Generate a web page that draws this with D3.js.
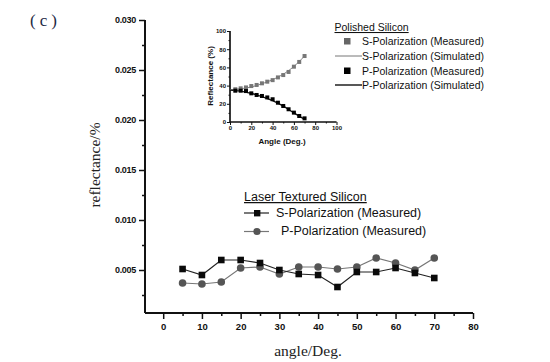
<!DOCTYPE html>
<html><head><meta charset="utf-8">
<script src="https://cdn.jsdelivr.net/npm/d3@7"></script>
<style>body{margin:0;background:#fff}svg{display:block}</style>
</head><body>
<svg id="c" width="550" height="362"></svg>
<script>
// Main chart data (Laser Textured Silicon)
const angles = [5,10,15,20,25,30,35,40,45,50,55,60,65,70];
const laserS = [0.0051,0.0045,0.0060,0.0060,0.0057,0.0050,0.0046,0.0045,0.0033,0.0048,0.0048,0.0052,0.0047,0.0042];
const laserP = [0.0037,0.0036,0.0038,0.0052,0.0053,0.0046,0.0053,0.0053,0.0051,0.0053,0.0062,0.0057,0.0050,0.0062];
const mainXTicks = [0,10,20,30,40,50,60,70,80];
const mainYTicks = [0.005,0.010,0.015,0.020,0.025,0.030];
// Inset data (Polished Silicon)
const insetAngles = [5,10,15,20,25,30,35,40,45,50,55,60,65,70];
const polS = [36,37,38,39.5,40.7,42.5,44.3,46,49,51.6,55,60.8,66,72.5];
const polP = [34.4,34.4,34,31.5,29.7,28.6,27,25,21.2,17.6,14,10.3,6.6,4];
const simAngles = [0,10,20,30,40,50,60,70];
const simS = [35.5,36.5,38.5,42,46.5,52.5,61,72.5];
const simP = [35,34,31.5,28,23.5,17.5,10,3];
const insetTicks = [0,20,40,60,80,100];

const svg = d3.select("#c");
const sans = "'Liberation Sans', Arial, sans-serif";
const serif = "'Liberation Serif', 'Times New Roman', serif";

// main scales
const x = d3.scaleLinear().domain([-4.7,80]).range([145,473]);
const y = d3.scaleLinear().domain([0.0007,0.030]).range([313,20]);

const gx = svg.append("g").attr("transform","translate(0,313)");
gx.call(d3.axisBottom(x).tickValues(d3.range(5,80,10)).tickSize(3).tickFormat(""));
gx.append("g").call(d3.axisBottom(x).tickValues(mainXTicks).tickSize(6).tickPadding(4).tickFormat(d3.format("d")));
gx.selectAll("path").attr("d","M145,0H473").attr("stroke","#111").attr("stroke-width",1.8);
gx.selectAll("line").attr("stroke","#111").attr("stroke-width",1.5);
gx.selectAll("text").attr("font-family",sans).attr("font-weight","bold").attr("font-size",9.5).attr("fill","#111");

const gy = svg.append("g").attr("transform","translate(145,0)");
gy.call(d3.axisLeft(y).tickValues(d3.range(0.0025,0.03,0.005)).tickSize(3).tickFormat(""));
gy.append("g").call(d3.axisLeft(y).tickValues(mainYTicks).tickSize(6).tickPadding(3).tickFormat(d3.format(".3f")));
gy.selectAll("path").attr("d","M0,20V313").attr("stroke","#111").attr("stroke-width",1.8);
gy.selectAll("line").attr("stroke","#111").attr("stroke-width",1.5);
gy.selectAll("text").attr("font-family",sans).attr("font-weight","bold").attr("font-size",9).attr("fill","#111").attr("letter-spacing","-0.3");

// axis titles
svg.append("text").attr("transform","translate(100,165) rotate(-90)").attr("text-anchor","middle")
  .attr("font-family",serif).attr("font-size",15.5).attr("fill","#222").text("reflectance/%");
svg.append("text").attr("x",308).attr("y",356).attr("text-anchor","middle")
  .attr("font-family",serif).attr("font-size",15.5).attr("fill","#222").text("angle/Deg.");
svg.append("text").attr("x",30).attr("y",26).attr("font-family",serif).attr("font-size",17)
  .attr("fill","#1e2a44").attr("letter-spacing","4").text("(c)");

// main lines
const line = d3.line().x((d,i)=>x(angles[i])).y(d=>y(d));
svg.append("path").datum(laserP).attr("d",line).attr("fill","none").attr("stroke","#777").attr("stroke-width",1.2);
svg.append("path").datum(laserS).attr("d",line).attr("fill","none").attr("stroke","#222").attr("stroke-width",1.2);
svg.append("g").selectAll("circle").data(laserP).join("circle")
  .attr("cx",(d,i)=>x(angles[i])).attr("cy",d=>y(d)).attr("r",3.8).attr("fill","#555");
svg.append("g").selectAll("rect").data(laserS).join("rect")
  .attr("x",(d,i)=>x(angles[i])-3.3).attr("y",d=>y(d)-3.3).attr("width",6.6).attr("height",6.6).attr("fill","#0a0a0a");

// laser legend
const lg = svg.append("g").attr("font-family",sans).attr("font-size",12.5).attr("fill","#111");
lg.append("text").attr("x",244).attr("y",201).attr("text-decoration","underline").text("Laser Textured Silicon");
lg.append("line").attr("x1",244).attr("x2",269).attr("y1",213).attr("y2",213).attr("stroke","#222").attr("stroke-width",1.2);
lg.append("rect").attr("x",254).attr("y",210).attr("width",6.4).attr("height",6.4).attr("fill","#0a0a0a");
lg.append("text").attr("x",276).attr("y",217).text("S-Polarization (Measured)");
lg.append("line").attr("x1",244).attr("x2",269).attr("y1",231.5).attr("y2",231.5).attr("stroke","#777").attr("stroke-width",1.2);
lg.append("circle").attr("cx",257).attr("cy",231.5).attr("r",3.6).attr("fill","#555");
lg.append("text").attr("x",281).attr("y",235).text("P-Polarization (Measured)");

// polished legend
const pg = svg.append("g").attr("font-family",sans).attr("font-size",10.5).attr("fill","#111");
pg.append("text").attr("x",334.5).attr("y",31).attr("text-decoration","underline").text("Polished Silicon");
pg.append("rect").attr("x",344).attr("y",38).attr("width",6.5).attr("height",6.5).attr("fill","#666");
pg.append("text").attr("x",362).attr("y",45).text("S-Polarization (Measured)");
pg.append("line").attr("x1",335).attr("x2",362).attr("y1",56).attr("y2",56).attr("stroke","#777").attr("stroke-width",1);
pg.append("text").attr("x",362).attr("y",60).text("S-Polarization (Simulated)");
pg.append("rect").attr("x",344).attr("y",67.5).attr("width",6.5).attr("height",6.5).attr("fill","#000");
pg.append("text").attr("x",362).attr("y",74.5).text("P-Polarization (Measured)");
pg.append("line").attr("x1",335).attr("x2",362).attr("y1",85).attr("y2",85).attr("stroke","#111").attr("stroke-width",1.4);
pg.append("text").attr("x",362).attr("y",89).text("P-Polarization (Simulated)");

// inset
const ix = d3.scaleLinear().domain([0,100]).range([230,336.5]);
const iy = d3.scaleLinear().domain([0,100]).range([122,31]);
const igx = svg.append("g").attr("transform","translate(0,122)");
igx.call(d3.axisBottom(ix).tickValues(d3.range(10,100,20)).tickSize(1.5).tickFormat(""));
igx.append("g").call(d3.axisBottom(ix).tickValues(insetTicks).tickSize(3).tickPadding(1).tickFormat(d3.format("d")));
igx.selectAll("path").attr("d","M230,0H336.5").attr("stroke","#111").attr("stroke-width",1.2);
igx.selectAll("line").attr("stroke","#111");
igx.selectAll("text").attr("font-family",sans).attr("font-weight","bold").attr("font-size",6).attr("fill","#111");
const igy = svg.append("g").attr("transform","translate(230,0)");
igy.call(d3.axisLeft(iy).tickValues(d3.range(10,100,20)).tickSize(1.5).tickFormat(""));
igy.append("g").call(d3.axisLeft(iy).tickValues(insetTicks).tickSize(3).tickPadding(1).tickFormat(d3.format("d")));
igy.selectAll("path").attr("d","M0,31V122").attr("stroke","#111").attr("stroke-width",1.2);
igy.selectAll("line").attr("stroke","#111");
igy.selectAll("text").attr("font-family",sans).attr("font-weight","bold").attr("font-size",6).attr("fill","#111");
svg.append("text").attr("transform","translate(213,76) rotate(-90)").attr("text-anchor","middle")
  .attr("font-family",sans).attr("font-weight","bold").attr("font-size",8).attr("fill","#111").text("Reflectance (%)");
svg.append("text").attr("x",282).attr("y",144).attr("text-anchor","middle")
  .attr("font-family",sans).attr("font-weight","bold").attr("font-size",8).attr("fill","#111").text("Angle (Deg.)");

const sline = d3.line().curve(d3.curveMonotoneX).x((d,i)=>ix(simAngles[i])).y(d=>iy(d));
svg.append("path").datum(simS).attr("d",sline).attr("fill","none").attr("stroke","#888").attr("stroke-width",1);
svg.append("path").datum(simP).attr("d",sline).attr("fill","none").attr("stroke","#111").attr("stroke-width",1.3);
svg.append("g").selectAll("rect").data(polS).join("rect")
  .attr("x",(d,i)=>ix(insetAngles[i])-2).attr("y",d=>iy(d)-2).attr("width",4).attr("height",4).attr("fill","#777");
svg.append("g").selectAll("rect").data(polP).join("rect")
  .attr("x",(d,i)=>ix(insetAngles[i])-2).attr("y",d=>iy(d)-2).attr("width",4).attr("height",4).attr("fill","#000");
</script>
</body></html>
